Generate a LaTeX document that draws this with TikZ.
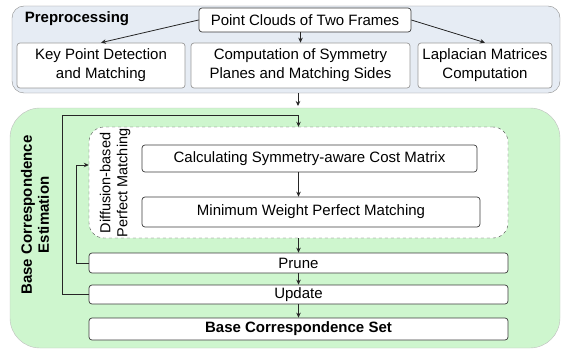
\documentclass[tikz,border=0pt]{standalone}
\usepackage{fontspec}
\setmainfont{Liberation Sans}
\usetikzlibrary{arrows.meta}
\definecolor{prefill}{RGB}{230,236,244}
\definecolor{greenfill}{RGB}{206,246,206}
\definecolor{edge}{RGB}{60,60,60}
\begin{document}
\begin{tikzpicture}[x=1pt,y=-1pt,
  txt/.style={font=\fontsize{15}{19}\selectfont},
  box/.style={txt,draw=edge,line width=0.7pt,fill=white,rounded corners=3pt,inner sep=0pt,align=center},
  arr/.style={-{Stealth[length=5pt,width=4.5pt]},line width=0.8pt,black!85},
  loop/.style={line width=0.9pt,black!85}
]
\useasboundingbox (0,0) rectangle (565,353);
% preprocessing panel
\node[draw=black!45,fill=prefill,rounded corners=12pt,minimum width=548pt,minimum height=87pt,inner sep=0pt] (pre) at (286,49.5) {};
\node[txt,font=\fontsize{15}{18}\selectfont\bfseries] (prelbl) at (77,19) {Preprocessing};
\node[box,minimum width=212pt,minimum height=24pt] (pc) at (305,20) {Point Clouds of Two Frames};
\node[box,minimum width=168pt,minimum height=45pt,draw=black!40] (kp) at (101,65.5) {Key Point Detection\\and Matching};
\node[box,minimum width=219pt,minimum height=45pt,draw=black!40] (comp) at (300.5,65.5) {Computation of Symmetry\\Planes and Matching Sides};
\node[box,minimum width=134pt,minimum height=45pt,draw=black!40] (lap) at (485,65.5) {Laplacian Matrices\\Computation};
\draw[arr] (pc.west) -- (kp.north);
\draw[arr] (pc.south -| comp.north) -- (comp.north);
\draw[arr] (pc.east) -- (lap.north);
% green panel
\node[fill=greenfill,draw=black!25,rounded corners=30pt,minimum width=550pt,minimum height=240pt,inner sep=0pt] (est) at (285,228) {};
\coordinate (g1) at (298,106);
\draw[arr] (pre.south -| g1) -- (g1);
\node[txt,font=\fontsize{15}{17}\selectfont\bfseries,rotate=90,align=center] (estlbl) at (35,215) {Base Correspondence\\Estimation};
% diffusion box
\node[draw=black!70,dashed,fill=white,rounded corners=15pt,minimum width=419pt,minimum height=111pt,inner sep=0pt] (dbox) at (298.5,182.5) {};
\node[txt,font=\fontsize{14.5}{17}\selectfont,rotate=90,align=center] (dlbl) at (115,183) {Diffusion-based\\Perfect Matching};
\node[box,minimum width=335pt,minimum height=27pt] (calc) at (309.5,158.5) {Calculating Symmetry-aware Cost Matrix};
\node[box,minimum width=338pt,minimum height=30pt] (mwpm) at (311,212) {Minimum Weight Perfect Matching};
\draw[arr] (calc.south -| dbox.center) -- (mwpm.north -| dbox.center);
% lower boxes
\node[box,minimum width=419pt,minimum height=20pt] (prune) at (298.5,263) {Prune};
\node[box,minimum width=419pt,minimum height=19pt] (upd) at (298.5,294.5) {Update};
\node[box,minimum width=419pt,minimum height=22pt,font=\fontsize{15}{19}\selectfont\bfseries] (bset) at (298.5,329) {Base Correspondence Set};
\draw[arr] (dbox.south) -- (prune.north);
\draw[arr] (prune.south) -- (upd.north);
\draw[arr] (upd.south) -- (bset.north);
% loops
\coordinate (loopA) at (62,115);
\coordinate (loopB) at (76,165);
\draw[loop] (upd.west) -| (loopA) -- (loopA -| dbox.north);
\draw[arr] (loopA -| dbox.north) -- (dbox.north);
\draw[loop] (prune.west) -| (loopB);
\draw[arr] (loopB) -- (loopB -| dbox.west);
\end{tikzpicture}
\end{document}
